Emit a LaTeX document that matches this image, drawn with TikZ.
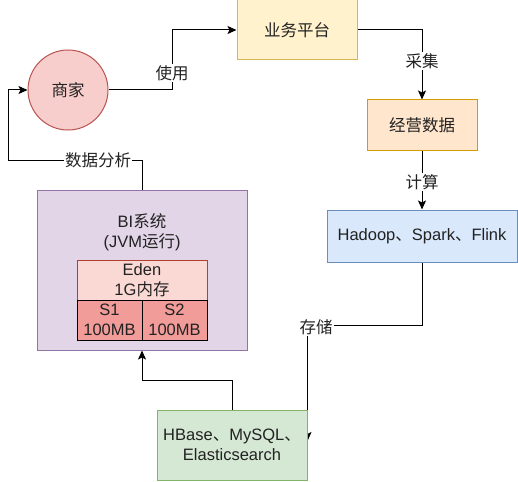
\documentclass[tikz,border=0pt]{standalone}
\usepackage{fontspec}
\setmainfont{Liberation Sans}
\newfontfamily\cjk{Noto Sans CJK SC}
\usetikzlibrary{arrows.meta,backgrounds}
\newcommand{\dun}{{\cjk 、}}
\definecolor{redF}{HTML}{F8CECC}\definecolor{redD}{HTML}{B85450}
\definecolor{yelF}{HTML}{FFF2CC}\definecolor{yelD}{HTML}{D6B656}
\definecolor{orgF}{HTML}{FFE6CC}\definecolor{orgD}{HTML}{D79B00}
\definecolor{bluF}{HTML}{DAE8FC}\definecolor{bluD}{HTML}{6C8EBF}
\definecolor{purF}{HTML}{E1D5E7}\definecolor{purD}{HTML}{9673A6}
\definecolor{grnF}{HTML}{D5E8D4}\definecolor{grnD}{HTML}{82B366}
\definecolor{edenF}{HTML}{FAD9D5}\definecolor{edenD}{HTML}{AE4132}
\definecolor{sF}{HTML}{F19C99}
\definecolor{txt}{HTML}{222222}
\begin{document}
\begin{tikzpicture}[x=1pt,y=-1pt,
  every node/.style={font=\fontsize{16.5}{20}\selectfont, text=txt, align=center, inner sep=0pt},
  shp/.style={line width=1pt},
  conn/.style={line width=1pt, -{Stealth[length=9pt,width=8pt,inset=2pt]}},
  lab/.style={fill=white, inner sep=1pt}]
\useasboundingbox (0,0) rectangle (518,481);
% nodes
\node[shp, draw=redD, fill=redF, circle, minimum size=80pt] (shang) at (68,90) {\cjk 商家};
\node[shp, draw=yelD, fill=yelF, minimum width=120pt, minimum height=60pt] (yewu) at (297,30) {\cjk 业务平台};
\node[shp, draw=orgD, fill=orgF, minimum width=110pt, minimum height=50pt] (jing) at (422,125) {\cjk 经营数据};
\node[shp, draw=bluD, fill=bluF, minimum width=190pt, minimum height=52pt] (hadoop) at (422,236) {Hadoop\dun Spark\dun Flink};
\node[shp, draw=purD, fill=purF, minimum width=210pt, minimum height=160pt] (bi) at (142,270) {};
\node (bitext) at (142,232) {BI{\cjk 系统}\\({JVM}{\cjk 运行})};
\node[shp, draw=edenD, fill=edenF, minimum width=130pt, minimum height=40pt] (eden) at (142,280) {Eden\\1G{\cjk 内存}};
\node[shp, draw=black, fill=sF, minimum width=65pt, minimum height=40pt] (s1) at (109.5,320) {S1\\100MB};
\node[shp, draw=black, fill=sF, minimum width=65pt, minimum height=40pt] (s2) at (174.5,320) {S2\\100MB};
\node[shp, draw=grnD, fill=grnF, minimum width=150pt, minimum height=70pt] (hbase) at (232,445) {HBase\dun MySQL\dun \\Elasticsearch};
\coordinate (store) at (307.5,441);
% edges
\begin{scope}[on background layer]
\draw[conn] (shang.east) -- (172,90) -- (172,30) -- (yewu.west);
\draw[conn] (yewu.east) -- (422,30) -- (jing.north);
\draw[conn] (jing.south) -- (hadoop.north);
\draw[conn] (hadoop.south) -- (422,325) -- (307.5,325) -- (store);
\draw[conn] (hbase.north) -- (232,380) -- (142,380) -- (bi.south);
\draw[conn] (bi.north) -- (142,160) -- (8,160) -- (8,90) -- (shang.west);
\end{scope}
\node[lab] (l1) at (172,73) {\cjk 使用};
\node[lab] (l2) at (422,61) {\cjk 采集};
\node[lab] (l3) at (422,182) {\cjk 计算};
\node[lab] (l4) at (316,327) {\cjk 存储};
\node[lab] (l5) at (98,160) {\cjk 数据分析};
\end{tikzpicture}
\end{document}
